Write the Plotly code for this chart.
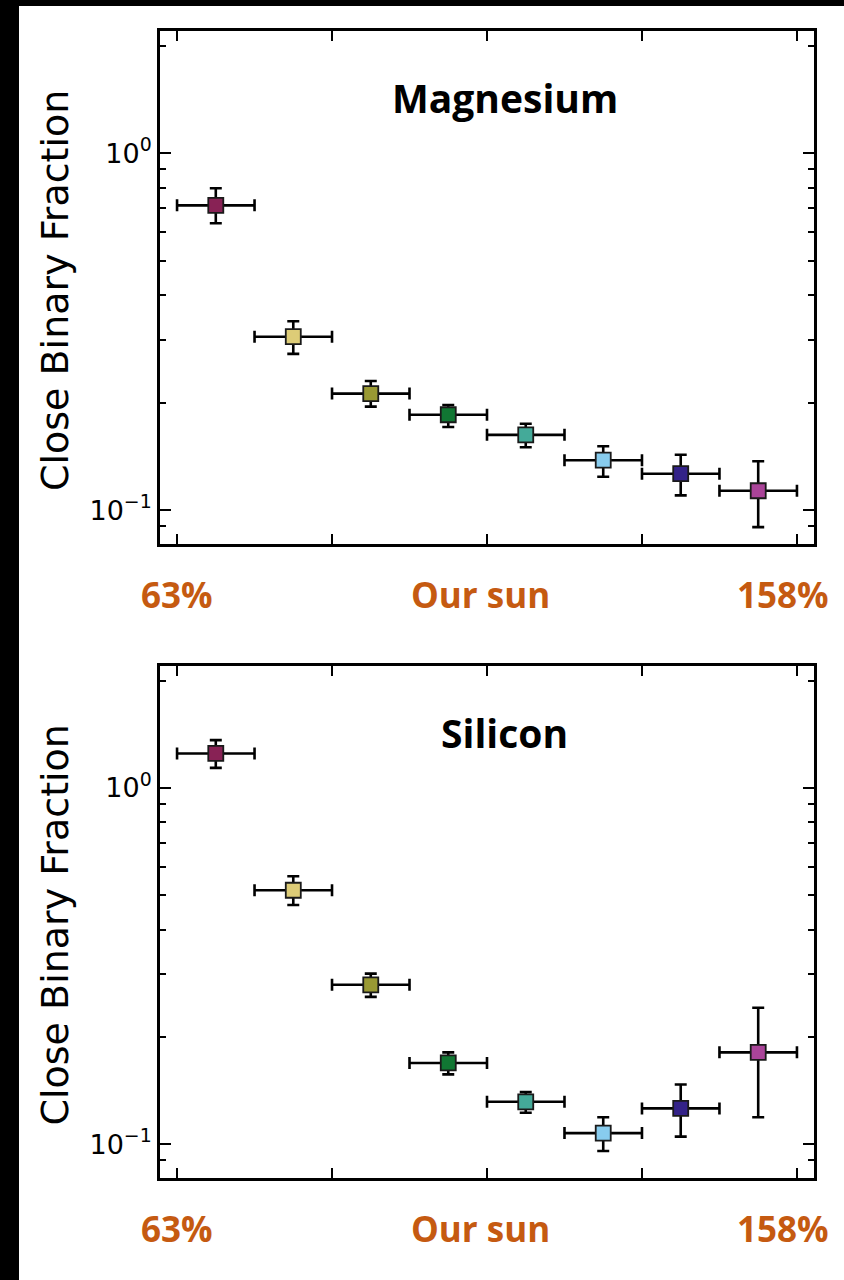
import plotly.graph_objects as go

# ---- data ----
metallicity = [-0.175, -0.125, -0.075, -0.025, 0.025, 0.075, 0.125, 0.175]
bin_halfwidth = [0.025, 0.025, 0.025, 0.025, 0.025, 0.025, 0.025, 0.025]
point_colors = ["#882255", "#DDCC77", "#999933", "#117733",
                "#44AA99", "#88CCEE", "#332288", "#AA4499"]

mg_frac = [0.714, 0.306, 0.212, 0.185, 0.1625, 0.138, 0.1265, 0.1133]
mg_upper = [0.797, 0.338, 0.230, 0.197, 0.1745, 0.151, 0.143, 0.137]
mg_lower = [0.636, 0.274, 0.195, 0.171, 0.150, 0.124, 0.110, 0.0896]

si_frac = [1.249, 0.516, 0.280, 0.169, 0.1315, 0.1074, 0.126, 0.181]
si_upper = [1.361, 0.565, 0.301, 0.181, 0.140, 0.119, 0.147, 0.2415]
si_lower = [1.138, 0.469, 0.259, 0.157, 0.1225, 0.0957, 0.105, 0.119]

x_tickvals = [-0.2, -0.1, 0.0, 0.1, 0.2]
x_labels = ["63%", "Our sun", "158%"]
x_label_pos = [-0.2, -0.0045, 0.191]
y_major = [0.1, 1.0]
y_major_text = ["10<sup>\u22121</sup>", "10<sup>0</sup>"]
y_minor = [0.08, 0.09, 0.2, 0.3, 0.4, 0.5, 0.6, 0.7, 0.8, 0.9, 2.0]
panel_titles = ["Magnesium", "Silicon"]
y_title = "Close Binary Fraction"

ORANGE = "#C55A11"

fig = go.Figure()


def add_panel(y, upper, lower, xa, ya):
    fig.add_trace(go.Scatter(
        x=metallicity, y=y, mode="markers",
        xaxis=xa, yaxis=ya,
        marker=dict(symbol="square", size=15, color=point_colors,
                    line=dict(color="#1a1a1a", width=1.8)),
        error_x=dict(type="data", array=bin_halfwidth, color="black",
                     thickness=2.6, width=6),
        error_y=dict(type="data", symmetric=False,
                     array=[u - v for u, v in zip(upper, y)],
                     arrayminus=[v - l for v, l in zip(y, lower)],
                     color="black", thickness=2.6, width=6),
        showlegend=False, hoverinfo="skip",
    ))


add_panel(mg_frac, mg_upper, mg_lower, "x", "y")
add_panel(si_frac, si_upper, si_lower, "x2", "y2")

xaxis_common = dict(
    range=[-0.211, 0.211], tickvals=x_tickvals, showticklabels=False,
    ticks="inside", ticklen=10, tickwidth=2.2, tickcolor="black",
    showline=True, linecolor="black", linewidth=2.8, mirror="ticks",
    showgrid=False, zeroline=False,
)
yaxis_common = dict(
    type="log", range=[-1.095, 0.342],
    tickvals=y_major, ticktext=y_major_text,
    ticks="inside", ticklen=11, tickwidth=2.2, tickcolor="black",
    minor=dict(tickvals=y_minor, ticks="inside", ticklen=6, tickwidth=2,
               tickcolor="black", showgrid=False),
    showline=True, linecolor="black", linewidth=2.8, mirror="ticks",
    showgrid=False, zeroline=False,
    tickfont=dict(family="DejaVu Sans", size=27, color="black"),
)

fig.update_layout(
    width=844, height=1280,
    margin=dict(l=160, r=30, t=31, b=102),
    paper_bgcolor="black", plot_bgcolor="white",
    xaxis=dict(**xaxis_common, anchor="y"),
    yaxis=dict(**yaxis_common, domain=[0.5527, 1.0], anchor="x"),
    xaxis2=dict(**xaxis_common, anchor="y2", matches="x"),
    yaxis2=dict(**yaxis_common, domain=[0.0, 0.4464], anchor="x2"),
)

# white page panel over the black backdrop
fig.add_shape(type="rect", xref="paper", yref="paper",
              x0=-0.2156, x1=1.06, y0=-0.1, y1=1.0218,
              fillcolor="white", line=dict(width=0), layer="below")

annotations = []
for xa, ya, title in [("x", "y", panel_titles[0]), ("x2", "y2", panel_titles[1])]:
    annotations.append(dict(
        text="<b>%s</b>" % title, xref=xa + " domain", yref=ya + " domain",
        x=0.5275, y=0.871, xanchor="center", yanchor="middle", showarrow=False,
        font=dict(family="Open Sans", size=39, color="black")))
    annotations.append(dict(
        text=y_title, xref="paper", yref=ya + " domain",
        x=-0.1606, y=0.495, xanchor="center", yanchor="middle", textangle=-90,
        showarrow=False, font=dict(family="DejaVu Sans", size=38, color="black")))
    for lab, pos in zip(x_labels, x_label_pos):
        annotations.append(dict(
            text="<b>%s</b>" % lab, xref=xa, yref=ya + " domain",
            x=pos, y=-0.099, xanchor="center", yanchor="middle", showarrow=False,
            font=dict(family="Open Sans", size=35, color=ORANGE)))
fig.update_layout(annotations=annotations)

fig.write_html("out.html", config={"displayModeBar": False},
               post_script="document.body.style.margin='0';")
